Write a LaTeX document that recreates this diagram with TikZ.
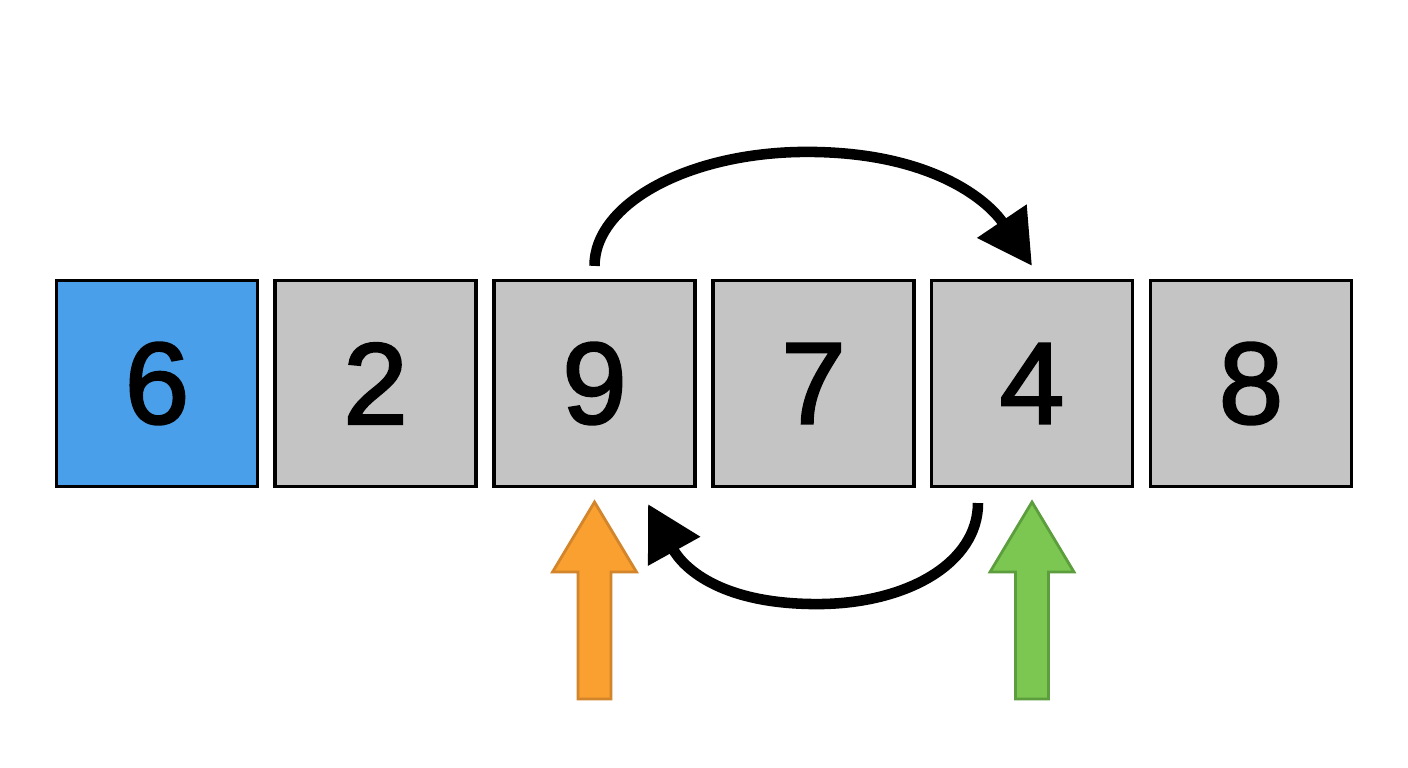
\documentclass[tikz,border=0pt]{standalone}
\usepackage{fontspec}
\setmainfont{Liberation Sans}
\newfontfamily\digitfont[FakeBold=2]{Liberation Sans}
\usetikzlibrary{arrows.meta}
\usetikzlibrary{calc}

\definecolor{cellgray}{HTML}{C4C4C4}
\definecolor{cellblue}{HTML}{4A9FEA}
\definecolor{ptrorange}{HTML}{F9A030}
\definecolor{ptrorangedark}{HTML}{D2852A}
\definecolor{ptrgreen}{HTML}{7CC751}
\definecolor{ptrgreendark}{HTML}{5C9E3D}

\begin{document}
\begin{tikzpicture}
    \tikzstyle{cell}=[
      draw=black,
      line width=0.9pt,
      fill=cellgray,
      minimum width=2.01cm,
      minimum height=2.06cm,
      inner sep=0pt,
      font=\digitfont\fontsize{33}{40}\selectfont,
    ]
    \tikzstyle{pivot}=[
      cell,
      fill=cellblue,
    ]
    \tikzstyle{swap}=[line width=3pt,-{Triangle[length=5.4mm,width=5.7mm]},draw=black]
    \tikzstyle{pointer}=[line width=0.8pt,line join=miter]

    \fill[white] (0,0) rectangle (14.08,7.68);
    \useasboundingbox (0,0) rectangle (14.08,7.68);

    {
      \node[pivot] (n1) at (1.57,3.845) {6};
      \node[cell] (n2) at (3.755,3.845) {2};
      \node[cell] (n3) at (5.945,3.845) {9};
      \node[cell] (n4) at (8.135,3.845) {7};
      \node[cell] (n5) at (10.32,3.845) {4};
      \node[cell] (n6) at (12.51,3.845) {8};
    }

    {
      \coordinate (s1) at ($(n3.north)+(0,0.13)$);
      \coordinate (e1) at ($(n5.north)+(0,0.13)$);
      \coordinate (peak1) at ($(s1)+(2.125,1.14)$);
      \coordinate (s2) at ($(n5.south)+(-0.54,-0.15)$);
      \coordinate (e2) at ($(n3.south)+(0.535,-0.16)$);
      \coordinate (low2) at ($(s2)+(-1.61,-1.01)$);
      \coordinate (p9) at ($(n3.south)+(0,-0.14)$);
      \coordinate (p4) at ($(n5.south)+(0,-0.14)$);
    }

    {
      \draw[swap] (s1) to[out=90,in=180,out distance=0.63cm,in distance=1.17cm] (peak1)
        to[out=0,in=124,out distance=1.23cm,in distance=0.8cm] (e1);
      \draw[swap] (s2) to[out=-90,in=0,out distance=0.6cm,in distance=0.9cm] (low2)
        to[out=180,in=-61,out distance=1.0cm,in distance=0.7cm] (e2);
    }

    {
      \draw[pointer,draw=ptrorangedark,fill=ptrorange] (p9) -- ++(-0.42,-0.70) -- ++(0.255,0)
        -- ++(0,-1.27) -- ++(0.33,0) -- ++(0,1.27) -- ++(0.255,0) -- cycle;
      \draw[pointer,draw=ptrgreendark,fill=ptrgreen] (p4) -- ++(-0.42,-0.70) -- ++(0.255,0)
        -- ++(0,-1.27) -- ++(0.33,0) -- ++(0,1.27) -- ++(0.255,0) -- cycle;
    }
\end{tikzpicture}
\end{document}
